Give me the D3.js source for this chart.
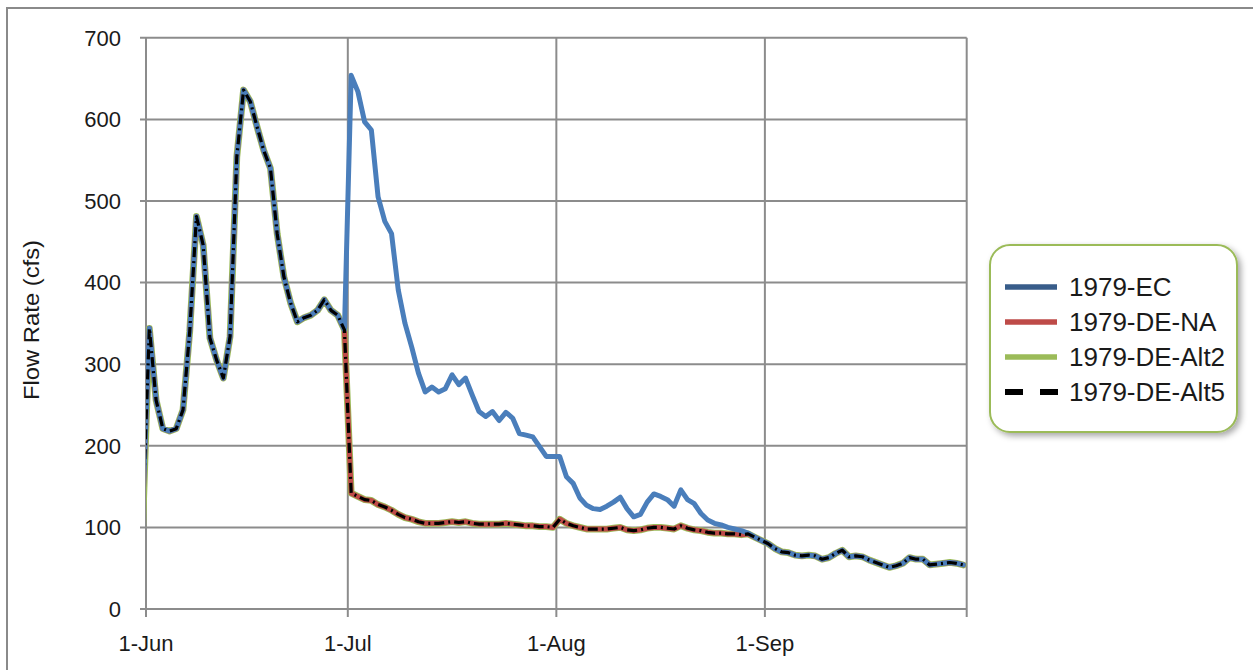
<!DOCTYPE html>
<html>
<head>
<meta charset="utf-8">
<script src="https://cdn.jsdelivr.net/npm/d3@7"></script>
<style>
  html, body { margin: 0; padding: 0; background: #ffffff; }
  svg { display: block; }
  text { font-family: "Liberation Sans", Arial, sans-serif; fill: #1a1a1a; }
</style>
</head>
<body>
<svg id="chart" width="1253" height="670"></svg>
<script>
// ---------- DATA ----------
const seriesNames = ["1979-EC", "1979-DE-NA", "1979-DE-Alt2", "1979-DE-Alt5"];
const yTicks = [0, 100, 200, 300, 400, 500, 600, 700];
const xTickLabels = ["1-Jun", "1-Jul", "1-Aug", "1-Sep", ""];
// value of the day before the axis start (31-May), clipped at the axis edge
const startEC = 120, startNA = 120, startAlt2 = 100, startAlt5 = 110;
// June (all series identical)
const juneAll = [344, 256, 221, 218, 221, 244, 340, 481, 446, 332, 305, 283, 334, 554, 636,
                 622, 591, 562, 540, 460, 407, 375, 352, 357, 360, 366, 379, 366, 360, 342];
// July
const julyEC = [654, 634, 597, 587, 505, 475, 460, 391, 350, 321, 289, 266, 272, 266, 270, 287,
                275, 283, 262, 242, 236, 242, 231, 241, 234, 215, 213, 211, 199, 187, 187];
const julyDE = [142, 138, 134, 133, 128, 125, 121, 116, 112, 110, 107, 105, 105, 105, 106, 107,
                106, 107, 105, 104, 104, 104, 104, 105, 104, 103, 102, 102, 101, 101, 100];
// August
const augEC = [187, 162, 154, 136, 127, 123, 122, 126, 131, 137, 123, 113, 116, 131, 141, 138,
               134, 126, 146, 134, 129, 117, 109, 105, 103, 100, 98, 96, 93, 88, 84];
const augDE = [110, 105, 102, 100, 98, 98, 98, 98, 99, 100, 97, 96, 97, 99, 100, 100,
               99, 98, 102, 99, 97, 96, 94, 93, 93, 92, 92, 91, 92, 88, 84];
// September (all series identical)
const septAll = [80, 74, 70, 69, 66, 65, 66, 65, 61, 63, 68, 72, 64, 65, 64, 60,
                 57, 54, 51, 53, 56, 63, 61, 61, 54, 55, 56, 57, 56, 54];

const colors = ["#4a7ebb", "#be4b48", "#9bbb59", "#000000"];
const legendColors = ["#385d8a", "#be4b48", "#9bbb59", "#000000"];

// ---------- BUILD ----------
const dates = d3.utcDay.range(Date.UTC(1979, 4, 31), Date.UTC(1979, 9, 1));
const valuesBySeries = [
  [startEC, ...juneAll, ...julyEC, ...augEC, ...septAll],
  [startNA, ...juneAll, ...julyDE, ...augDE, ...septAll],
  [startAlt2, ...juneAll, ...julyDE, ...augDE, ...septAll],
  [startAlt5, ...juneAll, ...julyDE, ...augDE, ...septAll]
];

const svg = d3.select("#chart");
const pL = 146, pR = 966.7, pT = 37.8, pB = 609;

const x = d3.scaleUtc()
  .domain([new Date(Date.UTC(1979, 5, 1)), new Date(Date.UTC(1979, 9, 1))])
  .range([pL, pR]);
const y = d3.scaleLinear().domain([0, 700]).range([pB, pT]);

// outer frame
svg.append("rect")
  .attr("x", 7).attr("y", 8).attr("width", 1300).attr("height", 700)
  .attr("fill", "none").attr("stroke", "#8a8a8a").attr("stroke-width", 2);

const monthTicks = d3.utcMonth.range(new Date(Date.UTC(1979, 5, 1)), new Date(Date.UTC(1979, 9, 2)));

// horizontal gridlines + y ticks
const grid = svg.append("g");
grid.selectAll("line.h").data(yTicks).join("line")
  .attr("x1", pL - 6).attr("x2", pR)
  .attr("y1", d => y(d)).attr("y2", d => y(d))
  .attr("stroke", "#8c8c8c").attr("stroke-width", 2);
// vertical gridlines at month starts + x ticks
grid.selectAll("line.v").data(monthTicks).join("line")
  .attr("x1", d => x(d)).attr("x2", d => x(d))
  .attr("y1", pT).attr("y2", pB + 8)
  .attr("stroke", "#8c8c8c").attr("stroke-width", 2);

// y labels
svg.append("g").selectAll("text").data(yTicks).join("text")
  .attr("x", 121).attr("y", d => y(d))
  .attr("dy", "0.35em")
  .attr("text-anchor", "end")
  .style("font-size", "22px")
  .text(d => d);

// x labels
svg.append("g").selectAll("text").data(monthTicks).join("text")
  .attr("x", d => x(d)).attr("y", 651)
  .attr("text-anchor", "middle")
  .style("font-size", "22px")
  .text((d, i) => xTickLabels[i]);

// y axis title
svg.append("text")
  .attr("transform", "translate(39,320) rotate(-90)")
  .attr("text-anchor", "middle")
  .attr("textLength", 160)
  .attr("lengthAdjust", "spacingAndGlyphs")
  .style("font-size", "22px")
  .text("Flow Rate (cfs)");

// clip
svg.append("clipPath").attr("id", "plotclip")
  .append("rect").attr("x", pL).attr("y", 0).attr("width", pR - pL).attr("height", pB + 5);

const line = d3.line()
  .x((d, i) => x(d3.utcHour.offset(dates[i], 12)))
  .y(d => y(d));

const plot = svg.append("g").attr("clip-path", "url(#plotclip)");
const styles = [
  { w: 5, dash: null },
  { w: 5, dash: null },
  { w: 6.8, dash: null },
  { w: 3.2, dash: "10 4 2 4" }
];
const order = [2, 1, 0, 3];
order.forEach(k => {
  plot.append("path")
    .datum(valuesBySeries[k])
    .attr("d", line)
    .attr("fill", "none")
    .attr("stroke", colors[k])
    .attr("stroke-width", styles[k].w)
    .attr("stroke-linejoin", "round")
    .attr("stroke-linecap", k === 3 ? "butt" : "round")
    .attr("stroke-dasharray", styles[k].dash);
});

// legend
const defs = svg.append("defs");
const f = defs.append("filter").attr("id", "shadow").attr("x", "-10%").attr("y", "-10%").attr("width", "130%").attr("height", "130%");
f.append("feDropShadow").attr("dx", 3).attr("dy", 3).attr("stdDeviation", 3).attr("flood-color", "#000").attr("flood-opacity", 0.35);

const lg = svg.append("g");
lg.append("rect")
  .attr("x", 990).attr("y", 245).attr("width", 247).attr("height", 187)
  .attr("rx", 20).attr("ry", 20)
  .attr("fill", "#ffffff").attr("stroke", "#9bbb59").attr("stroke-width", 2)
  .attr("filter", "url(#shadow)");

seriesNames.forEach((name, i) => {
  const cy = 287 + i * 35;
  if (i === 3) {
    lg.append("line").attr("x1", 1005).attr("x2", 1058).attr("y1", cy).attr("y2", cy)
      .attr("stroke", legendColors[i]).attr("stroke-width", 6)
      .attr("stroke-dasharray", "18 17");
  } else {
    lg.append("line").attr("x1", 1005).attr("x2", 1057).attr("y1", cy).attr("y2", cy)
      .attr("stroke", legendColors[i]).attr("stroke-width", 5.5);
  }
  lg.append("text").attr("x", 1069).attr("y", cy).attr("dy", "0.35em")
    .style("font-size", "26px").text(name);
});
</script>
</body>
</html>
